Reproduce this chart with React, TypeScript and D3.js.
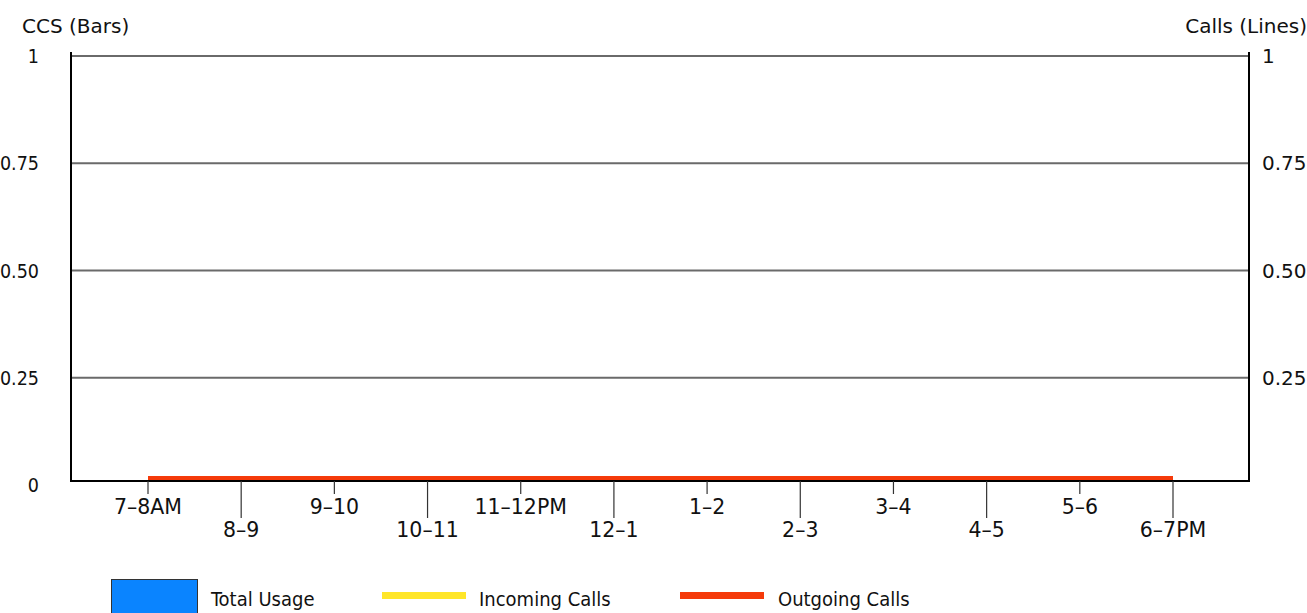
import React from "react";
import * as d3 from "d3";

const categories = ["7–8AM", "8–9", "9–10", "10–11", "11–12PM", "12–1", "1–2", "2–3", "3–4", "4–5", "5–6", "6–7PM"];
const totalUsage = [0, 0, 0, 0, 0, 0, 0, 0, 0, 0, 0, 0];
const incomingCalls = [0, 0, 0, 0, 0, 0, 0, 0, 0, 0, 0, 0];
const outgoingCalls = [0, 0, 0, 0, 0, 0, 0, 0, 0, 0, 0, 0];
const leftTicks = [0, 0.25, 0.5, 0.75, 1];
const leftTickLabels = ["0", "0.25", "0.50", "0.75", "1"];
const rightTicks = [0.25, 0.5, 0.75, 1];
const rightTickLabels = ["0.25", "0.50", "0.75", "1"];

const W = 1307;
const H = 613;
const FONT = "'DejaVu Sans', Verdana, sans-serif";
const COND_FONT = "'DejaVu Sans Condensed', Tahoma, sans-serif";

export default function App() {
  const left = 71;
  const right = 1249;
  const axisY = 481;
  const x = d3.scalePoint<string>().domain(categories).range([148, 1173]);
  const y = d3.scaleLinear().domain([0, 1]).range([485, 56]);
  const yLines = d3.scaleLinear().domain([0, 1]).range([478, 56]);
  const bandW = 60;

  const lineGen = d3
    .line<number>()
    .x((_, i) => x(categories[i]) as number)
    .y((d) => yLines(d));

  return (
    <svg width={W} height={H} style={{ position: "absolute", left: 0, top: 0 }} fontFamily={FONT}>
      <rect x={0} y={0} width={W} height={H} fill="#fff" />
      {/* titles */}
      <text x={22} y={33} fontSize={20} fill="#111">CCS (Bars)</text>
      <text x={1307} y={33} fontSize={20} fill="#111" textAnchor="end">Calls (Lines)</text>
      {/* gridlines */}
      {leftTicks.filter((t) => t > 0).map((t) => (
        <line key={t} x1={left} x2={right} y1={y(t)} y2={y(t)} stroke="#6a6a6a" strokeWidth={2} />
      ))}
      {/* left labels */}
      {leftTicks.map((t, i) => (
        <text key={t} x={39} y={y(t)} dy="0.36em" fontFamily={COND_FONT} fontSize={19.5} textAnchor="end" fill="#111">
          {leftTickLabels[i]}
        </text>
      ))}
      {rightTicks.map((t, i) => (
        <text key={t} x={1262} y={y(t)} dy="0.36em" fontSize={20} fill="#111">
          {rightTickLabels[i]}
        </text>
      ))}
      {/* bars */}
      {totalUsage.map((v, i) => (
        <rect
          key={i}
          x={(x(categories[i]) as number) - bandW / 2}
          y={y(v)}
          width={bandW}
          height={Math.max(0, y(0) - y(v))}
          fill="#0a84ff"
        />
      ))}
      {/* frame */}
      <line x1={left} x2={left} y1={52} y2={axisY + 1} stroke="#000" strokeWidth={2} />
      <line x1={right} x2={right} y1={52} y2={axisY + 1} stroke="#000" strokeWidth={2} />
      <line x1={left - 1} x2={right + 1} y1={axisY} y2={axisY} stroke="#000" strokeWidth={2} />
      {/* x ticks and labels */}
      {categories.map((c, i) => {
        const cx = x(c) as number;
        const low = i % 2 === 1;
        return (
          <g key={c}>
            <line x1={cx} x2={cx} y1={axisY} y2={low ? 518 : 494} stroke="#333" strokeWidth={1.2} />
            <text x={cx} y={low ? 537 : 514} fontSize={20.5} textAnchor="middle" fill="#111">
              {c}
            </text>
          </g>
        );
      })}
      {/* lines */}
      <path d={lineGen(incomingCalls) || ""} fill="none" stroke="#ffe629" strokeWidth={4} />
      <path d={lineGen(outgoingCalls) || ""} fill="none" stroke="#f53a0a" strokeWidth={4} />
      {/* legend */}
      <rect x={111.5} y={579.5} width={86} height={40} fill="#0a84ff" stroke="#333" strokeWidth={1} />
      <g fontFamily={COND_FONT} fontSize={20} fill="#111">
        <text x={211} y={606}>Total Usage</text>
        <text x={479} y={606}>Incoming Calls</text>
        <text x={778} y={606}>Outgoing Calls</text>
      </g>
      <line x1={382} x2={466} y1={595.5} y2={595.5} stroke="#ffe629" strokeWidth={7} />
      <line x1={680} x2={764} y1={595.5} y2={595.5} stroke="#f53a0a" strokeWidth={7} />
    </svg>
  );
}
